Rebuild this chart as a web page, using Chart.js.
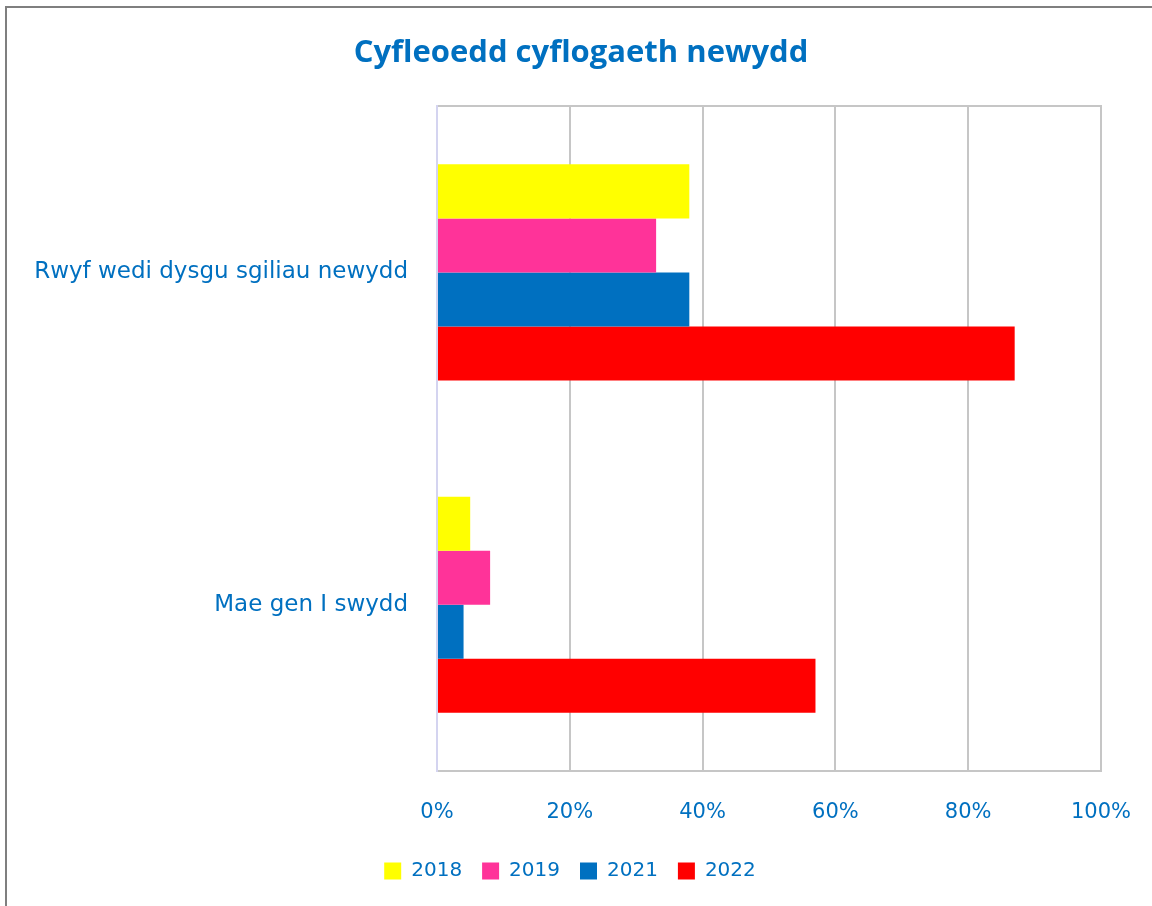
<!DOCTYPE html>
<html>
<head>
<meta charset="utf-8">
<script src="https://cdn.jsdelivr.net/npm/chart.js@4.4.1/dist/chart.umd.min.js"></script>
<style>
  html, body { margin: 0; padding: 0; background: #fff; }
  #wrap { position: absolute; left: 0; top: 0; width: 1152px; height: 906px; }
  #lineL { position: absolute; left: 5px; top: 6px; width: 2px; height: 900px; background: #7f7f7f; }
  #lineT { position: absolute; left: 5px; top: 6px; width: 1147px; height: 2px; background: #7f7f7f; }
</style>
</head>
<body>
<div id="wrap"><canvas id="c" width="1152" height="906"></canvas></div>
<div id="lineL"></div>
<div id="lineT"></div>
<script>
const titleText = 'Cyfleoedd cyflogaeth newydd';
const categories = ['Rwyf wedi dysgu sgiliau newydd', 'Mae gen I swydd'];
const seriesNames = ['2018', '2019', '2021', '2022'];
const values2018 = [38, 5];
const values2019 = [33, 8];
const values2021 = [38, 4];
const values2022 = [87, 57];
const seriesColors = ['#FFFF00', '#FF3399', '#0070C0', '#FF0000'];
const tickValues = [0, 20, 40, 60, 80, 100];

const blue = '#0070C0';
const fam = '"DejaVu Sans", sans-serif';

const allValues = [values2018, values2019, values2021, values2022];
const datasets = seriesNames.map((name, i) => ({
  label: name,
  data: allValues[i],
  backgroundColor: seriesColors[i],
  borderWidth: 0,
  categoryPercentage: 0.65,
  barPercentage: 1.0,
  xAxisID: 'x'
}));

// Let the long category labels use the full left margin, and centre the legend like the original.
const layoutTweak = {
  id: 'layoutTweak',
  afterLayout(chart) {
    const y = chart.scales.y;
    y.left = 0;
    if (chart.legend) {
      chart.legend.left -= 22;
    }
  }
};

new Chart(document.getElementById('c'), {
  type: 'bar',
  data: { labels: categories, datasets },
  plugins: [layoutTweak],
  options: {
    indexAxis: 'y',
    responsive: false,
    animation: false,
    layout: { padding: { top: 10, right: 51, bottom: 15, left: 61 } },
    plugins: {
      title: {
        display: true,
        text: titleText,
        color: blue,
        font: { family: '"Open Sans", sans-serif', size: 31, weight: 'bold' },
        padding: { top: 25, bottom: 34 }
      },
      legend: {
        position: 'bottom',
        labels: {
          color: blue,
          font: { family: fam, size: 20 },
          boxWidth: 17,
          boxHeight: 17,
          padding: 20
        }
      },
      tooltip: { enabled: false }
    },
    scales: {
      x: {
        min: 0, max: 100,
        afterBuildTicks: (s) => { s.ticks = tickValues.map(v => ({ value: v })); },
        afterFit: (s) => { s.height = 70; s.paddingRight = 0; s.paddingLeft = 0; },
        ticks: {
          color: blue,
          font: { family: fam, size: 21 },
          padding: 29,
          callback: (v) => v + '%'
        },
        grid: {
          color: (ctx) => ctx.index === 0 ? '#d4d4f0' : '#c6c6c6',
          lineWidth: 2,
          drawTicks: false
        },
        border: { display: true, color: '#c6c6c6', width: 2 }
      },
      xTop: {
        position: 'top',
        min: 0, max: 100,
        afterFit: (s) => { s.paddingRight = 0; s.paddingLeft = 0; },
        grid: { display: false, drawTicks: false },
        ticks: { display: false },
        border: { display: true, color: '#c6c6c6', width: 2 }
      },
      y: {
        afterFit: (s) => { s.width = 376; },
        ticks: {
          color: blue,
          font: { family: fam, size: 23 },
          padding: 29
        },
        grid: { display: false, drawTicks: false },
        border: { display: true, color: '#d4d4f0', width: 2 }
      }
    }
  }
});
</script>
</body>
</html>
